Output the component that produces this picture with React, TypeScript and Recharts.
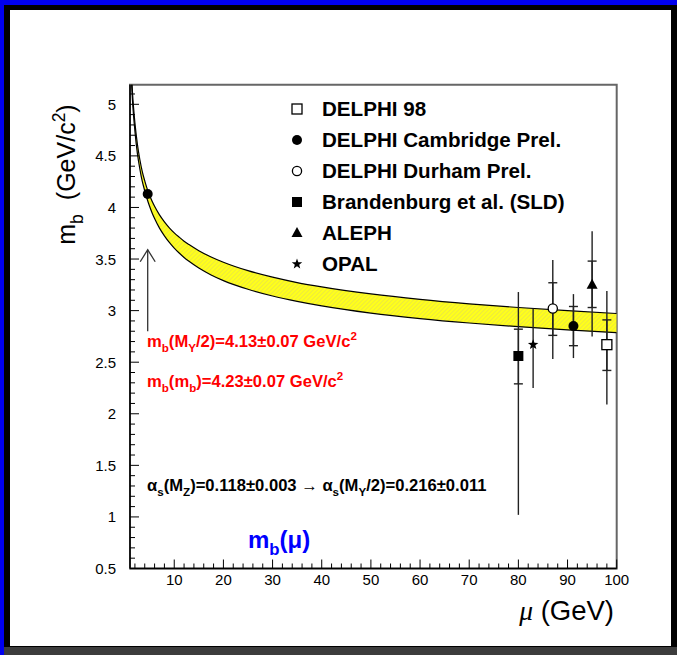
import React from "react";
import {
  Area,
  ComposedChart,
  ErrorBar,
  Legend,
  ReferenceArea,
  ReferenceDot,
  ReferenceLine,
  Scatter,
  XAxis,
  YAxis,
} from "recharts";

// running mass band m_b(mu)
const MU = [1.2, 1.5, 2, 2.5, 3, 3.5, 4, 4.5, 5, 5.5, 6, 7, 8, 9, 10, 11, 12, 13, 15, 17.5, 20, 25, 30, 35, 40, 50, 60, 70, 80, 90, 100];
const BAND_HI = [5.39, 5.12, 4.82, 4.615, 4.465, 4.348, 4.258, 4.18, 4.115, 4.059, 4.011, 3.928, 3.861, 3.803, 3.754, 3.712, 3.673, 3.64, 3.581, 3.52, 3.469, 3.387, 3.324, 3.272, 3.23, 3.162, 3.109, 3.066, 3.03, 2.999, 2.972];
const BAND_LO = [5.31, 5.04, 4.74, 4.525, 4.375, 4.252, 4.162, 4.08, 4.009, 3.947, 3.893, 3.8, 3.725, 3.661, 3.606, 3.558, 3.515, 3.478, 3.413, 3.346, 3.291, 3.207, 3.142, 3.09, 3.046, 2.976, 2.923, 2.88, 2.844, 2.813, 2.786];

// measurements at the Z scale
const EXP_NAMES = ["DELPHI 98", "DELPHI Cambridge Prel.", "DELPHI Durham Prel.", "Brandenburg et al. (SLD)", "ALEPH", "OPAL"];
const EXP_KIND = ["openSquare", "dot", "openCircle", "square", "triangle", "star"];
const EXP_MU = [98, 91.2, 87, 80, 95, 83];
const EXP_MB = [2.67, 2.85, 3.02, 2.56, 3.25, 2.67];
const EXP_TOT_DN = [0.58, 0.31, 0.49, 1.54, 0.5, 0.42];
const EXP_TOT_UP = [0.52, 0.31, 0.47, 0.62, 0.52, 0.35];
const EXP_STAT_DN = [0.25, 0.19, 0.26, 0.27, 0.22, 0];
const EXP_STAT_UP = [0.24, 0.19, 0.25, 0.26, 0.23, 0];

// input point at M_Upsilon/2 and the arrow under it
const LOW_MU = 4.6;
const LOW_MB = 4.13;
const ARROW_FROM = 2.8;
const ARROW_TO = 3.59;

const X_LABELS = [10, 20, 30, 40, 50, 60, 70, 80, 90, 100];
const Y_LABELS = [0.5, 1, 1.5, 2, 2.5, 3, 3.5, 4, 4.5, 5];
const X_DOMAIN: [number, number] = [1, 100];
const Y_DOMAIN: [number, number] = [0.5, 5.19];

const X_TICKS: number[] = [];
for (let v = 2; v <= 100; v += 2) X_TICKS.push(v);
const Y_TICKS: number[] = [];
for (let i = 5; i <= 51; i++) Y_TICKS.push(i / 10);

const bandData = MU.map((mu, i) => ({ mu, band: [BAND_LO[i], BAND_HI[i]] }));
const expData = EXP_NAMES.map((name, i) => ({
  name,
  mu: EXP_MU[i],
  m: EXP_MB[i],
  tot: [EXP_TOT_DN[i], EXP_TOT_UP[i]],
  stat: [EXP_STAT_DN[i], EXP_STAT_UP[i]],
}));

const SANS = "'Liberation Sans', Arial, Helvetica, sans-serif";
const INK = "#000";

function starPoints(cx: number, cy: number, r: number) {
  const pts: string[] = [];
  for (let k = 0; k < 10; k++) {
    const rad = k % 2 === 0 ? r : r * 0.42;
    const a = -Math.PI / 2 + (k * Math.PI) / 5;
    pts.push(`${cx + rad * Math.cos(a)},${cy + rad * Math.sin(a)}`);
  }
  return pts.join(" ");
}

function Marker({ cx, cy, kind }: { cx: number; cy: number; kind: string }) {
  switch (kind) {
    case "openSquare":
      return <rect x={cx - 5} y={cy - 5} width={10} height={10} fill="#fff" stroke={INK} strokeWidth={1.3} />;
    case "square":
      return <rect x={cx - 5} y={cy - 5} width={10} height={10} fill={INK} />;
    case "openCircle":
      return <circle cx={cx} cy={cy} r={4.6} fill="#fff" stroke={INK} strokeWidth={1.3} />;
    case "triangle":
      return <polygon points={`${cx},${cy - 6} ${cx + 5.5},${cy + 4} ${cx - 5.5},${cy + 4}`} fill={INK} />;
    case "star":
      return <polygon points={starPoints(cx, cy, 5.5)} fill={INK} />;
    default:
      return <circle cx={cx} cy={cy} r={5} fill={INK} />;
  }
}

// text with sub/superscript pieces: [text, "sub" | "sup" | undefined, dx?]
function Rich({ parts, size, ...rest }: any) {
  let shift = 0;
  return (
    <text fontSize={size} {...rest}>
      {parts.map(([t, m, dx]: [string, string?, number?], i: number) => {
        const target = m === "sub" ? size * 0.3 : m === "sup" ? -size * 0.42 : 0;
        const dy = target - shift;
        shift = target;
        return (
          <tspan key={i} dy={dy} dx={dx} fontSize={m ? size * 0.7 : size}>
            {t}
          </tspan>
        );
      })}
    </text>
  );
}

const YTick = (props: any) => {
  const { x, y, payload } = props;
  const major = Y_LABELS.includes(payload.value);
  const ax = x + 14;
  return (
    <g>
      <line x1={ax} x2={ax + (major ? 9 : 5)} y1={y} y2={y} stroke={INK} strokeWidth={1} />
      {major && (
        <text x={x} y={y + 5.5} textAnchor="end" fontSize={15} fontFamily={SANS} fill={INK}>
          {payload.value}
        </text>
      )}
    </g>
  );
};

const XTick = (props: any) => {
  const { x, y, payload } = props;
  const major = X_LABELS.includes(payload.value);
  const ay = y - 4;
  return (
    <g>
      <line x1={x} x2={x} y1={ay} y2={ay - (major ? 9 : 5)} stroke={INK} strokeWidth={1} />
      {major && (
        <text x={x} y={y + 12} textAnchor="middle" fontSize={15} fontFamily={SANS} fill={INK}>
          {payload.value}
        </text>
      )}
    </g>
  );
};

function LegendBox() {
  return (
    <div style={{ fontFamily: SANS, fontWeight: "bold", fontSize: 20.6, color: INK }}>
      {EXP_NAMES.map((name, i) => (
        <div key={name} style={{ display: "flex", alignItems: "center", height: 31 }}>
          <svg width={20} height={20} style={{ marginRight: 15 }}>
            <Marker cx={10} cy={10} kind={EXP_KIND[i]} />
          </svg>
          <span style={{ whiteSpace: "nowrap" }}>{name}</span>
        </div>
      ))}
    </div>
  );
}

export default function App() {
  return (
    <div style={{ position: "absolute", left: 0, top: 0, width: 677, height: 655, background: "#0000f0" }}>
      <div style={{ position: "absolute", left: 4, top: 5, width: 673, height: 650, background: "#000" }} />
      <div style={{ position: "absolute", left: 4, top: 647, width: 673, height: 8, background: "#3c3c3c" }} />
      <div style={{ position: "absolute", left: 10, top: 10, width: 661, height: 636, background: "#fff" }} />
      <div style={{ position: "absolute", left: 0, top: 0 }}>
        <ComposedChart
          width={677}
          height={655}
          data={bandData}
          margin={{ top: 84.7, right: 60.3, bottom: 56.5, left: 70 }}
        >
          <defs>
            <pattern id="hatch" width={3} height={3} patternUnits="userSpaceOnUse" patternTransform="rotate(45)">
              <rect width={3} height={3} fill="#ffff1a" />
              <line x1={0} y1={0} x2={0} y2={3} stroke="#d8cf6a" strokeWidth={0.9} />
            </pattern>
          </defs>
          <ReferenceArea
            x1={X_DOMAIN[0]}
            x2={X_DOMAIN[1]}
            y1={Y_DOMAIN[0]}
            y2={Y_DOMAIN[1]}
            fill="none"
            stroke="#666"
            strokeWidth={2}
          />
          <XAxis
            type="number"
            dataKey="mu"
            domain={X_DOMAIN}
            allowDataOverflow
            ticks={X_TICKS}
            interval={0}
            tickSize={0}
            tickMargin={4}
            tickLine={false}
            tick={XTick}
            height={30}
            axisLine={{ stroke: INK, strokeWidth: 1.5 }}
          />
          <YAxis
            type="number"
            domain={Y_DOMAIN}
            allowDataOverflow
            ticks={Y_TICKS}
            interval={0}
            tickSize={0}
            tickMargin={14}
            tickLine={false}
            tick={YTick}
            width={60}
            axisLine={{ stroke: INK, strokeWidth: 1.5 }}
          />
          <Area
            type="monotone"
            dataKey="band"
            fill="url(#hatch)"
            fillOpacity={1}
            stroke={INK}
            strokeWidth={1.2}
            dot={false}
            activeDot={false}
            isAnimationActive={false}
          />
          <ReferenceLine
            segment={[
              { x: LOW_MU, y: ARROW_FROM },
              { x: LOW_MU, y: ARROW_TO },
            ]}
            stroke="#333"
            strokeWidth={1.3}
          />
          <ReferenceDot
            x={LOW_MU}
            y={ARROW_TO}
            shape={(p: any) => (
              <polyline
                points={`${p.cx - 7.5},${p.cy + 12} ${p.cx},${p.cy} ${p.cx + 7.5},${p.cy + 12}`}
                fill="none"
                stroke="#333"
                strokeWidth={1.3}
              />
            )}
          />
          <Scatter
            data={[{ mu: LOW_MU, m: LOW_MB }]}
            dataKey="m"
            isAnimationActive={false}
            shape={(p: any) => <Marker cx={p.cx} cy={p.cy} kind="dot" />}
          />
          {expData.map((d, i) => (
            <Scatter
              key={d.name}
              name={d.name}
              data={[d]}
              dataKey="m"
              isAnimationActive={false}
              shape={(p: any) => <Marker cx={p.cx} cy={p.cy} kind={EXP_KIND[i]} />}
            >
              <ErrorBar dataKey="tot" direction="y" width={0} stroke="#222" strokeWidth={1.4} isAnimationActive={false} />
              {EXP_STAT_UP[i] > 0 && (
                <ErrorBar dataKey="stat" direction="y" width={4.5} stroke="#222" strokeWidth={1.4} isAnimationActive={false} />
              )}
            </Scatter>
          ))}
          <Legend
            layout="horizontal"
            verticalAlign="middle"
            wrapperStyle={{ left: 287, top: 93, width: 330, height: 190 }}
            content={() => <LegendBox />}
          />
          <g fontFamily={SANS} fontWeight="bold">
            <Rich
              x={147}
              y={347}
              size={16.6}
              fill="#ff0000"
              parts={[["m"], ["b", "sub"], ["(M"], ["Υ", "sub"], ["/2)=4.13±0.07 GeV/c"], ["2", "sup"]]}
            />
            <Rich
              x={147}
              y={387}
              size={16.6}
              fill="#ff0000"
              parts={[["m"], ["b", "sub"], ["(m"], ["b", "sub"], [")=4.23±0.07 GeV/c"], ["2", "sup"]]}
            />
            <Rich
              x={147}
              y={491}
              size={16.6}
              fill={INK}
              parts={[["α"], ["s", "sub"], ["(M"], ["Z", "sub"], [")=0.118±0.003 → α"], ["s", "sub"], ["(M"], ["Υ", "sub"], ["/2)=0.216±0.011"]]}
            />
            <Rich x={248} y={548} size={24} fill="#0000ff" parts={[["m"], ["b", "sub"], ["(μ)"]]} />
          </g>
          <Rich
            x={75}
            y={174.5}
            size={25}
            fill={INK}
            fontFamily={SANS}
            textAnchor="middle"
            transform="rotate(-90 75 174.5)"
            parts={[["m"], ["b", "sub"], ["(GeV/c", undefined, 14], ["2", "sup"], [")"]]}
          />
          <text x={614} y={620} textAnchor="end" fontSize={27.5} fontFamily={SANS} fill={INK}>
            <tspan fontFamily="'Liberation Serif', serif" fontStyle="italic">μ</tspan>
            <tspan> (GeV)</tspan>
          </text>
        </ComposedChart>
      </div>
    </div>
  );
}
